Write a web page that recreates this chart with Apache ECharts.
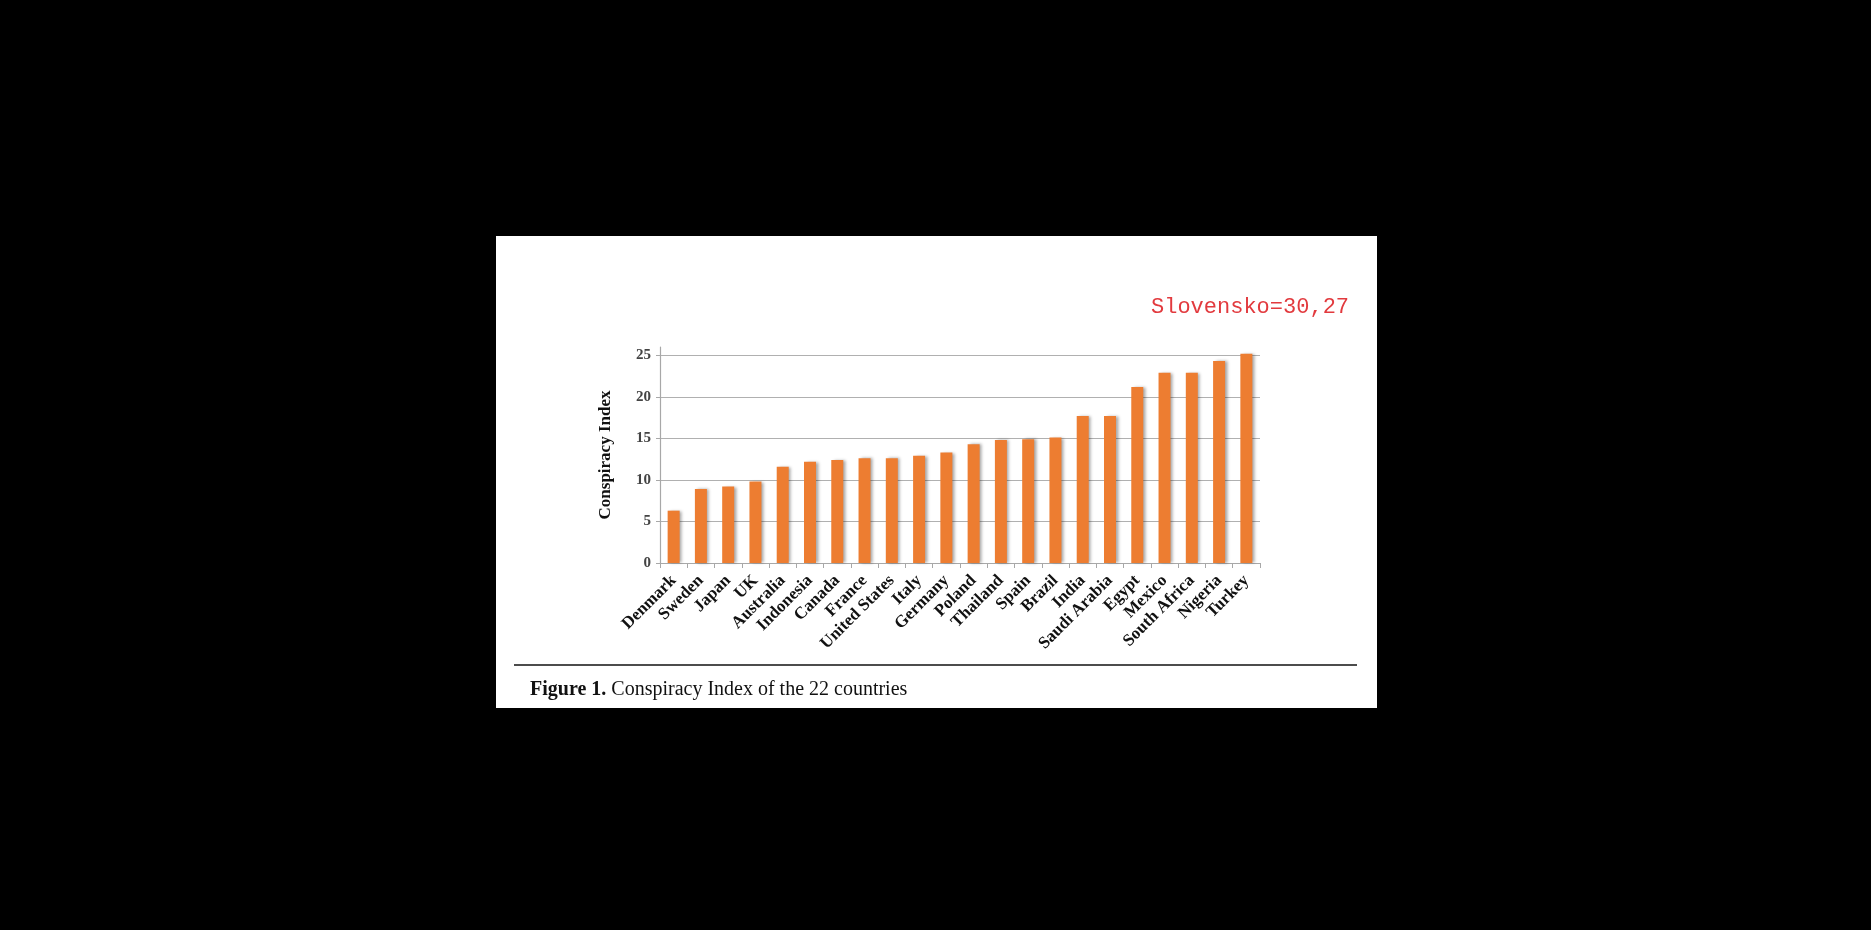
<!DOCTYPE html>
<html>
<head>
<meta charset="utf-8">
<script src="https://cdn.jsdelivr.net/npm/echarts@6/dist/echarts.min.js"></script>
<style>
  html, body { margin: 0; padding: 0; background: #000; }
  #chart { width: 1871px; height: 930px; }
</style>
</head>
<body>
<div id="chart"></div>
<script>
const countries = ["Denmark", "Sweden", "Japan", "UK", "Australia", "Indonesia", "Canada", "France",
  "United States", "Italy", "Germany", "Poland", "Thailand", "Spain", "Brazil", "India",
  "Saudi Arabia", "Egypt", "Mexico", "South Africa", "Nigeria", "Turkey"];
const conspiracyIndex = [6.3, 8.9, 9.2, 9.8, 11.6, 12.2, 12.4, 12.6,
  12.6, 12.9, 13.3, 14.3, 14.8, 14.9, 15.1, 17.7,
  17.7, 21.2, 22.9, 22.9, 24.3, 25.2];
const yTicks = [0, 5, 10, 15, 20, 25];
const note = "Slovensko=30,27";
const caption = "Conspiracy Index of the 22 countries";

const chart = echarts.init(document.getElementById("chart"));

const option = {
  backgroundColor: "#000",
  animation: false,
  graphic: [
    { type: "rect", z: -10, shape: { x: 496, y: 236, width: 881, height: 472 }, style: { fill: "#fff" } },
    { type: "line", shape: { x1: 514, y1: 665, x2: 1357, y2: 665 }, style: { stroke: "#111", lineWidth: 1.6 } }
  ],
  title: [
    {
      text: note,
      left: 1146, top: 291,
      textStyle: { fontFamily: "Liberation Mono", fontSize: 22, fontWeight: "normal", color: "#e23a3e" }
    },
    {
      text: "{b|Figure 1.} {r|" + caption + "}",
      left: 525, top: 675,
      textStyle: {
        fontWeight: "normal",
        rich: {
          b: { fontFamily: "Liberation Serif", fontSize: 20, fontWeight: "bold", color: "#111" },
          r: { fontFamily: "Liberation Serif", fontSize: 20, fontWeight: "normal", color: "#111" }
        }
      }
    }
  ],
  grid: { left: 660, right: 611, top: 347, bottom: 367, containLabel: false },
  xAxis: {
    type: "category",
    data: countries,
    axisLine: { lineStyle: { color: "#a8a8a8", width: 1.2 } },
    axisTick: { show: true, length: 5, lineStyle: { color: "#a8a8a8" } },
    axisLabel: {
      interval: 0, rotate: 45, margin: 15,
      fontFamily: "Liberation Serif", fontSize: 17, fontWeight: "bold", color: "#111"
    }
  },
  yAxis: {
    type: "value",
    min: 0, max: 26, interval: 5,
    name: "Conspiracy Index",
    nameLocation: "middle",
    nameGap: 46,
    nameTextStyle: { fontFamily: "Liberation Serif", fontSize: 17, fontWeight: "bold", color: "#111" },
    axisLine: { show: true, lineStyle: { color: "#a8a8a8", width: 1.2 } },
    axisTick: { show: true, length: 4, lineStyle: { color: "#a8a8a8" } },
    axisLabel: {
      showMaxLabel: false, margin: 9,
      fontFamily: "Liberation Serif", fontSize: 15, fontWeight: "bold", color: "#444",
      formatter: v => (yTicks.indexOf(v) >= 0 ? String(v) : "")
    },
    splitLine: { show: true, showMaxLine: false, lineStyle: { color: "#b0b0b0", width: 1.2 } }
  },
  series: [
    {
      type: "bar",
      data: conspiracyIndex,
      barWidth: 12,
      itemStyle: {
        color: "#ED7D31",
        shadowColor: "rgba(0,0,0,0.35)",
        shadowBlur: 3,
        shadowOffsetX: 2.5,
        shadowOffsetY: 0
      }
    }
  ]
};

chart.setOption(option);
</script>
</body>
</html>
